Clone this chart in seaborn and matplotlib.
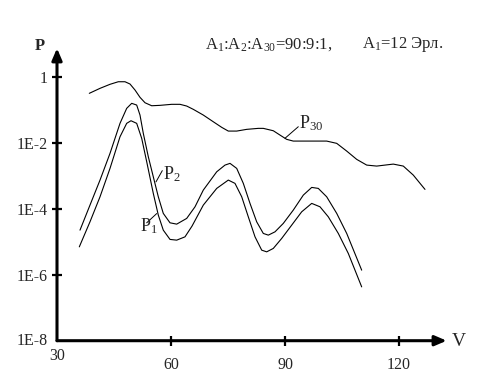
import numpy as np
import pandas as pd
import matplotlib
matplotlib.use("Agg")
import matplotlib.pyplot as plt
import seaborn as sns

sns.set_style("white")
plt.rcParams['font.family'] = ['Liberation Serif', 'DejaVu Serif']
plt.rcParams['mathtext.fontset'] = 'custom'
plt.rcParams['mathtext.rm'] = 'Liberation Serif'
plt.rcParams['mathtext.it'] = 'Liberation Serif'

# ---- data (V, log10 P) ----
p30_v = [38.50, 41.32, 43.95, 46.13, 47.89, 49.21, 50.53, 51.84, 53.16, 54.92, 57.11, 60.18,
         62.37, 64.13, 65.87, 68.50, 71.13, 73.34, 75.08, 77.29, 79.92, 82.97, 84.29, 86.92,
         88.68, 90.45, 92.18, 95.71, 100.97, 103.61, 106.24, 108.87, 111.50, 114.13, 118.50,
         121.13, 123.76, 126.84]
p30_e = [-0.509, -0.358, -0.236, -0.158, -0.158, -0.227, -0.409, -0.630, -0.794, -0.885, -0.873,
         -0.842, -0.842, -0.894, -0.994, -1.167, -1.370, -1.539, -1.652, -1.652, -1.600, -1.570,
         -1.570, -1.642, -1.773, -1.903, -1.955, -1.955, -1.955, -2.024, -2.258, -2.509, -2.682,
         -2.712, -2.652, -2.712, -2.985, -3.418]

p2_v = [36.05, 38.68, 41.32, 43.95, 46.58, 48.34, 49.66, 50.97, 51.84, 52.71, 54.03, 55.34,
        56.66, 57.97, 59.74, 61.50, 64.13, 66.32, 68.50, 72.03, 74.21, 75.53, 77.29, 79.03,
        80.79, 82.55, 84.29, 85.61, 87.37, 89.55, 92.18, 94.82, 97.03, 98.76, 100.97, 103.61,
        106.24, 110.18]
p2_e = [-4.652, -3.894, -3.136, -2.327, -1.418, -0.964, -0.812, -0.864, -1.167, -1.721, -2.430,
        -3.036, -3.642, -4.145, -4.430, -4.470, -4.297, -3.945, -3.439, -2.885, -2.682, -2.630,
        -2.782, -3.236, -3.842, -4.400, -4.752, -4.803, -4.703, -4.448, -4.045, -3.591, -3.358,
        -3.388, -3.642, -4.145, -4.752, -5.864]

p1_v = [35.87, 38.68, 41.32, 43.95, 46.58, 48.34, 49.47, 50.97, 52.29, 53.61, 55.34, 56.66,
        57.97, 59.74, 61.50, 63.68, 65.53, 68.50, 72.03, 75.08, 76.84, 78.61, 80.34, 82.11,
        83.87, 85.18, 86.92, 89.13, 91.76, 94.39, 97.03, 99.21, 101.39, 104.03, 106.66, 110.18]
p1_e = [-5.158, -4.400, -3.642, -2.782, -1.824, -1.418, -1.339, -1.418, -1.873, -2.582, -3.539,
        -4.197, -4.652, -4.933, -4.955, -4.855, -4.530, -3.894, -3.388, -3.136, -3.236, -3.642,
        -4.248, -4.855, -5.258, -5.309, -5.206, -4.903, -4.500, -4.097, -3.842, -3.945, -4.248,
        -4.752, -5.358, -6.370]

x_ticks = [60, 90, 120]
y_ticks = [1e-6, 1e-4, 1e-2, 1]
y_tick_labels = ["1E-6", "1E-4", "1E-2", "1"]
title_left = "A$_1$:A$_2$:A$_{30}$=90:9:1,"
title_right = "A$_1$=12 Эрл."

W, H = 485, 374
fig = plt.figure(figsize=(W / 100, H / 100), dpi=100)
ax = fig.add_axes([57 / W, 1 - 340.7 / H, 399 / W, (340.7 - 46.8) / H])
ax.set_yscale('log')
ax.set_xlim(30, 135)
ax.set_ylim(1e-8, 10 ** 0.9)

for v, e in [(p30_v, p30_e), (p2_v, p2_e), (p1_v, p1_e)]:
    df = pd.DataFrame({"V": v, "P": 10.0 ** np.array(e)})
    sns.lineplot(data=df, x="V", y="P", ax=ax, color="black", lw=0.8,
                 sort=False, estimator=None)

for s in ax.spines.values():
    s.set_visible(False)
ax.set_xlabel("")
ax.set_ylabel("")

# axes with arrows
ax.annotate("", xy=(132.55, 1e-8), xytext=(30, 1e-8),
            arrowprops=dict(arrowstyle='-|>,head_length=0.7,head_width=0.3',
                            lw=2.2, color='black', shrinkA=0, shrinkB=0),
            annotation_clip=False)
ax.annotate("", xy=(30, 10 ** 0.855), xytext=(30, 1e-8),
            arrowprops=dict(arrowstyle='-|>,head_length=0.7,head_width=0.3',
                            lw=2.2, color='black', shrinkA=0, shrinkB=0),
            annotation_clip=False)

ax.set_xticks(x_ticks)
ax.set_xticklabels([str(t) for t in x_ticks])
ax.set_yticks(y_ticks)
ax.set_yticklabels(y_tick_labels)
ax.minorticks_off()
ax.yaxis.set_minor_locator(matplotlib.ticker.NullLocator())
ax.tick_params(axis='both', which='major', direction='inout', length=7.5, width=1.6,
               color='black', labelsize=11.5, left=True, bottom=True)
ax.tick_params(axis='y', pad=3)
ax.tick_params(axis='x', pad=8)

# extra axis texts
ax.annotate("1E-8", xy=(30, 1e-8), xytext=(-7, 0), textcoords='offset points',
            ha='right', va='center', fontsize=11.5, annotation_clip=False)
ax.annotate("30", xy=(30, 1e-8), xytext=(0, -11), textcoords='offset points',
            ha='center', va='center', fontsize=11.5, annotation_clip=False)

fig.text(40 / W, 1 - 46 / H, "P", ha='center', va='center', fontsize=12, fontweight='bold')
fig.text(459 / W, 1 - 341 / H, "V", ha='center', va='center', fontsize=14)
fig.text(205 / W, 1 - 45 / H, title_left, ha='left', va='center', fontsize=12)
fig.text(362 / W, 1 - 45 / H, title_right, ha='left', va='center', fontsize=12)

# curve labels with leader lines
labels = [("P$_{30}$", 93.8, -1.57, (90.0, 93.5), (-1.87, -1.52)),
          ("P$_2$", 57.9, -3.115, (56.05, 57.71), (-3.19, -2.85)),
          ("P$_1$", 51.84, -4.70, (53.6, 56.24), (-4.43, -4.15))]
for txt, tx, te, lx, le in labels:
    ax.plot(lx, [10 ** le[0], 10 ** le[1]], color='black', lw=0.7)
    ax.text(tx, 10 ** te, txt, ha='left', va='baseline', fontsize=13)

fig.savefig("out.png", dpi=100)
